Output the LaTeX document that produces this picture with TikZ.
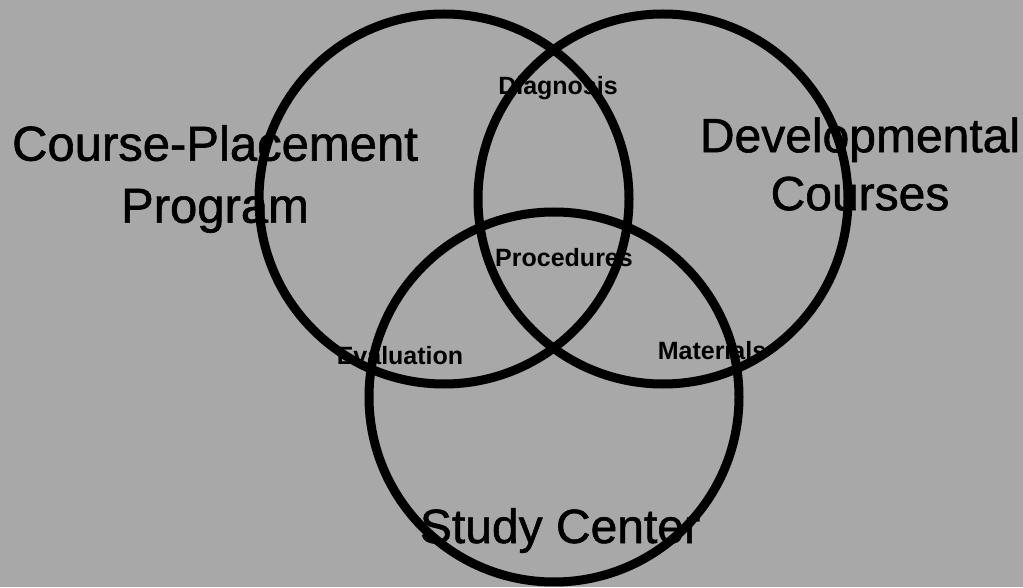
\documentclass[tikz,border=0pt]{standalone}
\usepackage{fontspec}
\setmainfont{Liberation Sans}
\newfontfamily\heavysans[FakeBold=1.2]{Liberation Sans}
\usepackage{tikz}
\usepackage{xcolor}

\begin{document}
\begin{tikzpicture}[x=1pt,y=1pt,
    ring/.style={draw=black, line width=9pt},
    bigtext/.style={align=center, inner sep=0pt, font=\heavysans\fontsize{49}{60}\selectfont},
    smalltext/.style={inner sep=0pt, anchor=base, font=\fontsize{25}{30}\selectfont\bfseries}]
    \fill[black!34] (0,0) rectangle (1023,587);
    \useasboundingbox (0,0) rectangle (1023,587);
    % the three rings
    \coordinate (cpl) at (444,388);
    \coordinate (dvc) at (663,388);
    \coordinate (stc) at (554,190);
    \draw[ring] (cpl) circle (185);
    \draw[ring] (dvc) circle (185);
    \draw[ring] (stc) circle (185);
    % labels
    \node[bigtext, font=\heavysans\fontsize{49}{62}\selectfont] (cpp) at (215,408) {Course-Placement\\Program};
    \node[bigtext, font=\heavysans\fontsize{48}{58}\selectfont] (dev) at (860,423) {Developmental\\Courses};
    \node[bigtext, font=\heavysans\fontsize{48}{58}\selectfont, anchor=base] (study) at (560,44) {Study Center};
    \node[smalltext] (diag) at (558,492) {Diagnosis};
    \node[smalltext] (proc) at (564,320) {Procedures};
    \node[smalltext] (eval) at (400,222) {Evaluation};
    \node[smalltext] (mat) at (712,227) {Materials};
\end{tikzpicture}
\end{document}
